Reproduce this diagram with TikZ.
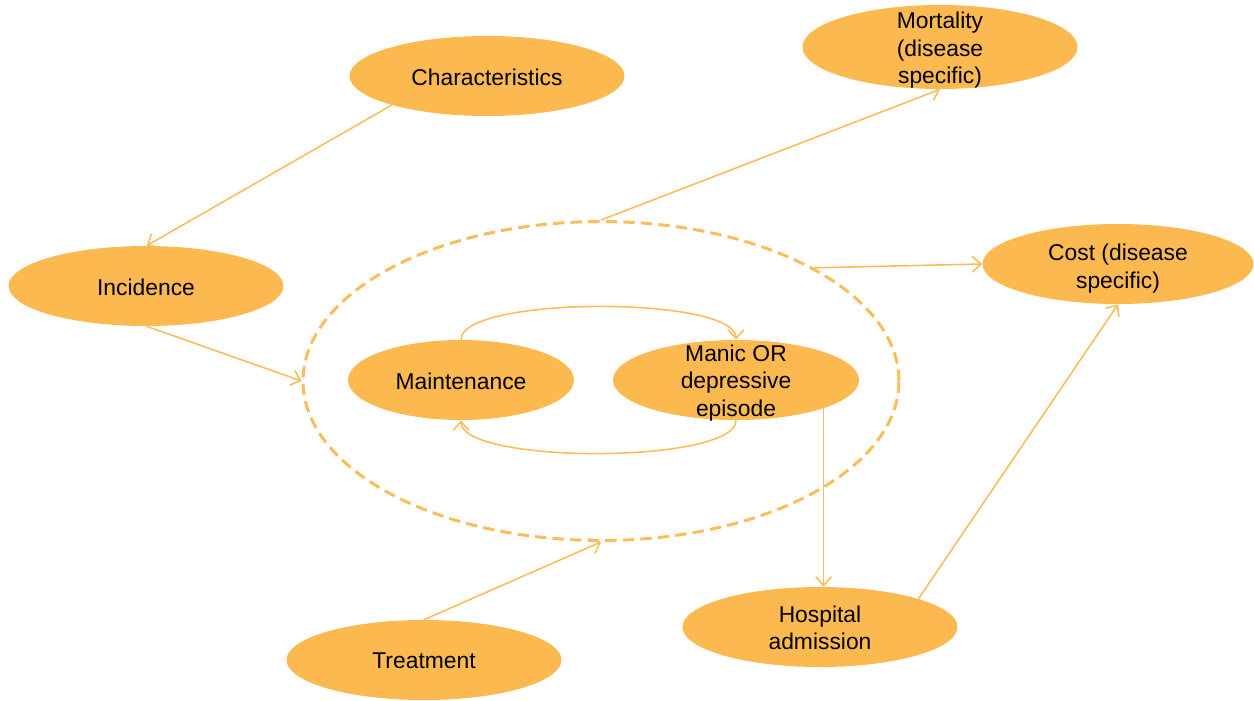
\documentclass[tikz,border=0pt]{standalone}
\usepackage{fontspec}
\setmainfont{Liberation Sans}
\usetikzlibrary{shapes.geometric,arrows.meta}
\definecolor{ambfill}{HTML}{FCB94F}
\definecolor{ambline}{HTML}{FBBD5A}
\begin{document}
\begin{tikzpicture}[x=0.02cm,y=-0.02cm,
  txt/.style={align=center,font=\fontsize{13}{15.6}\selectfont,inner sep=0pt},
  state/.style={ellipse,fill=ambfill,inner sep=0pt,minimum width=5.5cm,minimum height=1.6cm,
    label={[txt,yshift=-0.6pt]center:#1}},
  lower/.style={label={[txt,yshift=-#1]center:}},
  link/.style={ambline,line width=0.9pt,-{Straight Barb[length=5pt,width=9pt]}}]
\useasboundingbox (0,0) rectangle (1254,700);

% factor nodes
\node[state=Characteristics] (chars) at (487,76) {};
\node[state={},minimum height=1.68cm,
  label={[txt,yshift=-1.8pt]center:Mortality\\(disease\\specific)}] (mort) at (940,47) {};
\node[state=Incidence] (inc) at (146,286) {};
\node[state={},minimum width=5.42cm,
  label={[txt,yshift=-2.6pt]center:Cost (disease\\specific)}] (cost) at (1118,264) {};
\node[state=Maintenance,minimum width=4.52cm] (mnt) at (461,380) {};
\node[state={},minimum width=4.92cm,
  label={[txt,yshift=-1.6pt]center:Manic OR\\depressive\\episode}] (manic) at (736,380) {};
\node[state={Hospital\\admission}] (hosp) at (820,627) {};
\node[state=Treatment] (treat) at (424,660) {};

% dashed boundary around the disease states
\node[ellipse,draw=ambline,line width=1.7pt,dash pattern=on 6.5pt off 3.5pt,
  minimum width=11.92cm,minimum height=6.38cm,inner sep=0pt] (cyc) at (601,381) {};

% connectors
\draw[link] (chars.197) -- (inc.89);
\draw[link] (inc.271) -- (cyc.180);
\draw[link] (cyc.90) -- (mort.270);
\draw[link] (cyc.28) -- (cost.180);
\draw[link] (hosp.16) -- (cost.270);
\draw[link] (treat.90) -- (cyc.270);
\draw[link] (manic.-18) -- (manic.-18 |- hosp.north);

% transitions between the two states
\draw[link] (mnt.north) .. controls +(0,-44) and +(0,-44) .. (manic.north);
\draw[link] (manic.south) .. controls +(0,44) and +(0,44) .. (mnt.south);
\end{tikzpicture}
\end{document}
